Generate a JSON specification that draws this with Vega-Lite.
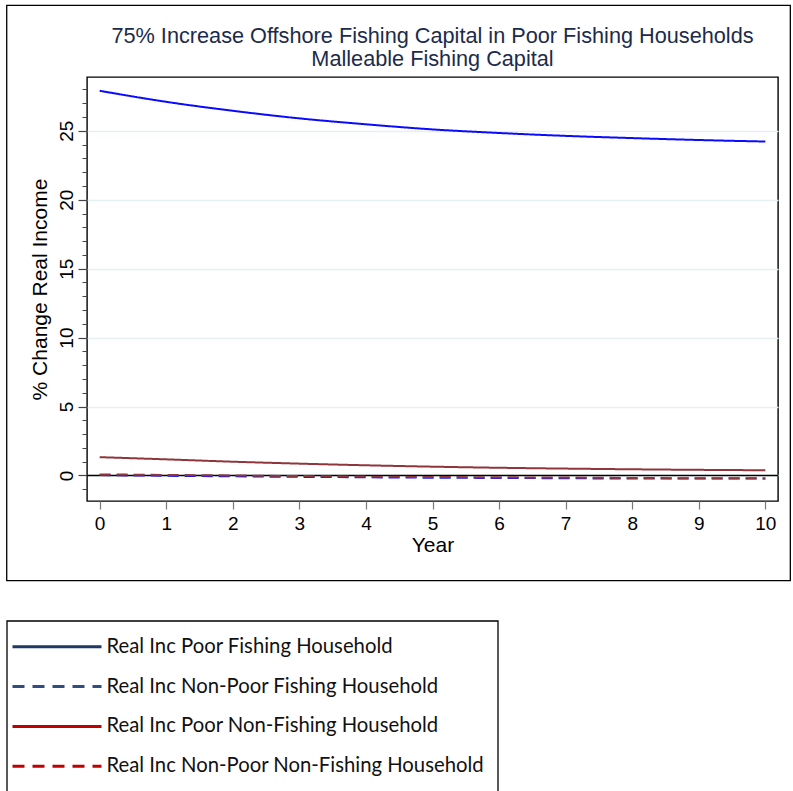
{
  "$schema": "https://vega.github.io/schema/vega-lite/v6.json",
  "padding": {"left": 5, "top": 3, "right": 2, "bottom": 0},
  "autosize": {"type": "pad"},
  "spacing": 38,
  "resolve": {"scale": {"color": "independent", "strokeDash": "independent"}},
  "config": {
    "font": "Liberation Sans",
    "view": {"stroke": "#000000", "strokeWidth": 1.4},
    "axis": {"labelFont": "Liberation Sans", "titleFont": "Liberation Sans", "labelColor": "#000000", "titleColor": "#000000", "titleFontWeight": "normal", "labelFlush": false, "labelOverlap": false, "labelBound": false}
  },
  "datasets": {
    "series": [
      {"year": 0, "series": "Real Inc Poor Fishing Household", "value": 27.9},
      {"year": 1, "series": "Real Inc Poor Fishing Household", "value": 27.1},
      {"year": 2, "series": "Real Inc Poor Fishing Household", "value": 26.45},
      {"year": 3, "series": "Real Inc Poor Fishing Household", "value": 25.9},
      {"year": 4, "series": "Real Inc Poor Fishing Household", "value": 25.47},
      {"year": 5, "series": "Real Inc Poor Fishing Household", "value": 25.1},
      {"year": 6, "series": "Real Inc Poor Fishing Household", "value": 24.84},
      {"year": 7, "series": "Real Inc Poor Fishing Household", "value": 24.63},
      {"year": 8, "series": "Real Inc Poor Fishing Household", "value": 24.47},
      {"year": 9, "series": "Real Inc Poor Fishing Household", "value": 24.33},
      {"year": 10, "series": "Real Inc Poor Fishing Household", "value": 24.22},
      {"year": 0, "series": "Real Inc Non-Poor Fishing Household", "value": 0.03},
      {"year": 1, "series": "Real Inc Non-Poor Fishing Household", "value": -0.02},
      {"year": 2, "series": "Real Inc Non-Poor Fishing Household", "value": -0.06},
      {"year": 3, "series": "Real Inc Non-Poor Fishing Household", "value": -0.1},
      {"year": 4, "series": "Real Inc Non-Poor Fishing Household", "value": -0.13},
      {"year": 5, "series": "Real Inc Non-Poor Fishing Household", "value": -0.16},
      {"year": 6, "series": "Real Inc Non-Poor Fishing Household", "value": -0.18},
      {"year": 7, "series": "Real Inc Non-Poor Fishing Household", "value": -0.2},
      {"year": 8, "series": "Real Inc Non-Poor Fishing Household", "value": -0.22},
      {"year": 9, "series": "Real Inc Non-Poor Fishing Household", "value": -0.22},
      {"year": 10, "series": "Real Inc Non-Poor Fishing Household", "value": -0.22},
      {"year": 0, "series": "Real Inc Poor Non-Fishing Household", "value": 1.33},
      {"year": 1, "series": "Real Inc Poor Non-Fishing Household", "value": 1.17},
      {"year": 2, "series": "Real Inc Poor Non-Fishing Household", "value": 1.0},
      {"year": 3, "series": "Real Inc Poor Non-Fishing Household", "value": 0.86},
      {"year": 4, "series": "Real Inc Poor Non-Fishing Household", "value": 0.74},
      {"year": 5, "series": "Real Inc Poor Non-Fishing Household", "value": 0.64},
      {"year": 6, "series": "Real Inc Poor Non-Fishing Household", "value": 0.56},
      {"year": 7, "series": "Real Inc Poor Non-Fishing Household", "value": 0.5},
      {"year": 8, "series": "Real Inc Poor Non-Fishing Household", "value": 0.45},
      {"year": 9, "series": "Real Inc Poor Non-Fishing Household", "value": 0.41},
      {"year": 10, "series": "Real Inc Poor Non-Fishing Household", "value": 0.38},
      {"year": 0, "series": "Real Inc Non-Poor Non-Fishing Household", "value": 0.08},
      {"year": 1, "series": "Real Inc Non-Poor Non-Fishing Household", "value": 0.04},
      {"year": 2, "series": "Real Inc Non-Poor Non-Fishing Household", "value": 0.0},
      {"year": 3, "series": "Real Inc Non-Poor Non-Fishing Household", "value": -0.04},
      {"year": 4, "series": "Real Inc Non-Poor Non-Fishing Household", "value": -0.08},
      {"year": 5, "series": "Real Inc Non-Poor Non-Fishing Household", "value": -0.11},
      {"year": 6, "series": "Real Inc Non-Poor Non-Fishing Household", "value": -0.13},
      {"year": 7, "series": "Real Inc Non-Poor Non-Fishing Household", "value": -0.15},
      {"year": 8, "series": "Real Inc Non-Poor Non-Fishing Household", "value": -0.18},
      {"year": 9, "series": "Real Inc Non-Poor Non-Fishing Household", "value": -0.2},
      {"year": 10, "series": "Real Inc Non-Poor Non-Fishing Household", "value": -0.21}
    ],
    "legend": [
      {"label": "Real Inc Poor Fishing Household"},
      {"label": "Real Inc Non-Poor Fishing Household"},
      {"label": "Real Inc Poor Non-Fishing Household"},
      {"label": "Real Inc Non-Poor Non-Fishing Household"}
    ]
  },
  "vconcat": [
    {
      "width": 691,
      "height": 424,
      "title": {
        "text": ["75% Increase Offshore Fishing Capital in Poor Fishing Households", "Malleable Fishing Capital"],
        "frame": "group",
        "anchor": "middle",
        "baseline": "bottom",
        "fontSize": 21.7,
        "fontWeight": "normal",
        "font": "Liberation Sans",
        "color": "#1c2b4b",
        "lineHeight": 22.5,
        "offset": -88
      },
      "resolve": {"axis": {"x": "independent", "y": "independent"}},
      "layer": [
        {
          "data": {"values": [{}]},
          "mark": {"type": "rect", "filled": false, "color": "#000000", "strokeWidth": 1.3},
          "encoding": {
            "x": {"datum": -1.396, "type": "quantitative", "scale": {"domain": [-0.19, 10.19], "nice": false, "zero": false}, "axis": null},
            "x2": {"datum": 10.375},
            "y": {"datum": 34.1, "type": "quantitative", "scale": {"domain": [-1.85, 28.9], "nice": false, "zero": false}, "axis": null},
            "y2": {"datum": -7.62}
          }
        },
        {
          "data": {"values": [{}]},
          "mark": {"type": "rule", "color": "#000000", "strokeWidth": 1.5},
          "encoding": {
            "y": {
              "datum": 0,
              "type": "quantitative",
              "scale": {"domain": [-1.85, 28.9], "nice": false, "zero": false},
              "axis": {
                "orient": "left",
                "values": [-1, 1, 2, 3, 4, 6, 7, 8, 9, 11, 12, 13, 14, 16, 17, 18, 19, 21, 22, 23, 24, 26, 27, 28],
                "labels": false,
                "domain": false,
                "grid": false,
                "tickSize": 5,
                "tickWidth": 1,
                "tickColor": "#444444",
                "title": null
              }
            }
          }
        },
        {
          "data": {"name": "series"},
          "mark": {"type": "line", "strokeWidth": 2, "interpolate": "monotone"},
          "encoding": {
            "x": {
              "field": "year",
              "type": "quantitative",
              "scale": {"domain": [-0.19, 10.19], "nice": false, "zero": false},
              "axis": {
                "orient": "bottom",
                "values": [0, 1, 2, 3, 4, 5, 6, 7, 8, 9, 10],
                "format": "d",
                "tickSize": 8,
                "tickWidth": 1.2,
                "tickColor": "#777777",
                "labelFontSize": 19,
                "labelPadding": 5,
                "labelAngle": 0,
                "grid": false,
                "domain": false,
                "title": "Year",
                "titleFontSize": 21,
                "titlePadding": 1
              }
            },
            "y": {
              "field": "value",
              "type": "quantitative",
              "scale": {"domain": [-1.85, 28.9], "nice": false, "zero": false},
              "axis": {
                "orient": "left",
                "values": [0, 5, 10, 15, 20, 25],
                "format": "d",
                "tickSize": 9,
                "tickWidth": 1.2,
                "tickColor": "#444444",
                "labelAngle": -90,
                "labelAlign": "center",
                "labelBaseline": "bottom",
                "labelFontSize": 19,
                "labelPadding": 2,
                "grid": true,
                "gridColor": "#e6eff1",
                "gridWidth": 1.5,
                "domain": false,
                "title": "% Change Real Income",
                "titleFontSize": 21,
                "titlePadding": 7
              }
            },
            "color": {
              "field": "series",
              "type": "nominal",
              "scale": {
                "domain": ["Real Inc Poor Fishing Household", "Real Inc Non-Poor Fishing Household", "Real Inc Poor Non-Fishing Household", "Real Inc Non-Poor Non-Fishing Household"],
                "range": ["#0a0aff", "#1a1ae8", "#90353b", "#90353b"]
              },
              "legend": null
            },
            "strokeDash": {
              "field": "series",
              "type": "nominal",
              "scale": {
                "domain": ["Real Inc Poor Fishing Household", "Real Inc Non-Poor Fishing Household", "Real Inc Poor Non-Fishing Household", "Real Inc Non-Poor Non-Fishing Household"],
                "range": [[1, 0], [11, 6], [1, 0], [11, 6]]
              },
              "legend": null
            }
          }
        }
      ]
    },
    {
      "width": 411,
      "height": 171,
      "view": {"stroke": null},
      "data": {"name": "legend"},
      "layer": [
        {
          "data": {"values": [{}]},
          "mark": {"type": "rect", "filled": false, "color": "#000000", "strokeWidth": 1.3},
          "encoding": {
            "x": {"datum": 0, "type": "quantitative", "scale": {"domain": [80, 491], "nice": false, "zero": false}, "axis": null},
            "x2": {"datum": 491}
          }
        },
        {
          "mark": {"type": "rule", "strokeWidth": 3},
          "encoding": {
            "y": {"field": "label", "type": "nominal", "sort": null, "scale": {"type": "point", "padding": 0.65}, "axis": null},
            "x": {"datum": 5.5, "type": "quantitative", "scale": {"domain": [80, 491], "nice": false, "zero": false}, "axis": null},
            "x2": {"datum": 94.5},
            "color": {
              "field": "label",
              "type": "nominal",
              "scale": {
                "domain": ["Real Inc Poor Fishing Household", "Real Inc Non-Poor Fishing Household", "Real Inc Poor Non-Fishing Household", "Real Inc Non-Poor Non-Fishing Household"],
                "range": ["#203864", "#2f4d7e", "#c00000", "#c00000"]
              },
              "legend": null
            },
            "strokeDash": {
              "field": "label",
              "type": "nominal",
              "scale": {
                "domain": ["Real Inc Poor Fishing Household", "Real Inc Non-Poor Fishing Household", "Real Inc Poor Non-Fishing Household", "Real Inc Non-Poor Non-Fishing Household"],
                "range": [[1, 0], [12, 8], [1, 0], [12, 8]]
              },
              "legend": null
            }
          }
        },
        {
          "mark": {"type": "text", "align": "left", "baseline": "middle", "font": "Lato", "fontSize": 20.3, "color": "#111111"},
          "encoding": {
            "y": {"field": "label", "type": "nominal", "sort": null, "axis": null},
            "x": {"datum": 99.5, "type": "quantitative", "scale": {"domain": [80, 491], "nice": false, "zero": false}, "axis": null},
            "text": {"field": "label"}
          }
        }
      ]
    }
  ]
}
